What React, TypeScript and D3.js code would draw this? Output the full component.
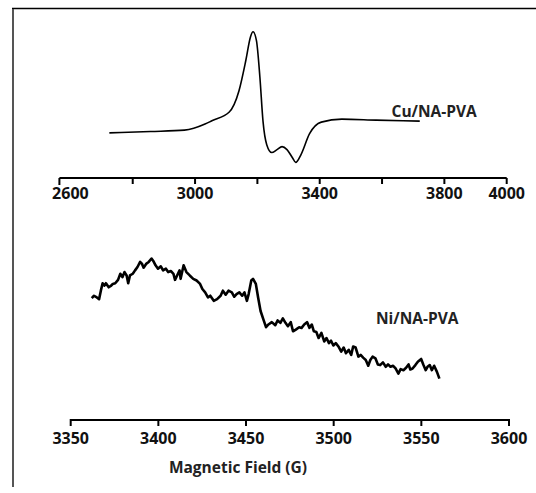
import React from "react";
import * as d3 from "d3";

// Top panel (Cu) axis
const cuTicks = [2600, 2800, 3000, 3200, 3400, 3600, 3800, 4000];
const cuTickLabels = [2600, 3000, 3400, 3800, 4000];
// Bottom panel (Ni) axis
const niTicks = [3350, 3400, 3450, 3500, 3550, 3600];
const seriesLabels = ["Cu/NA-PVA", "Ni/NA-PVA"];
const xAxisTitle = "Magnetic Field (G)";

// Cu/NA-PVA EPR signal: [field (G), intensity (a.u.)]
const cuSignal: [number, number][] = [
  [2725, 0], [2857, 1.4], [2966, 2.8], [3032, 9], [3054, 12.4], [3109, 21],
  [3141, 43], [3163, 74], [3178, 98], [3186, 103], [3197, 94], [3208, 57],
  [3218, 12], [3230, -12], [3246, -20], [3263, -17], [3279, -14], [3295, -17],
  [3312, -25], [3323, -30], [3340, -22], [3367, -1], [3405, 11], [3471, 14],
  [3581, 13], [3721, 12],
];

// Ni/NA-PVA EPR signal: [field (G), intensity (a.u.)]
const niSignal: [number, number][] = [
  [3362.0, 24.8], [3363.3, 25.5], [3364.9, 25.0], [3366.2, 24.5], [3367.2, 27.0],
  [3368.2, 29.2], [3369.2, 28.5], [3370.1, 29.2], [3371.7, 28.0], [3373.1, 28.5],
  [3374.0, 29.0], [3375.4, 29.2], [3377.0, 30.2], [3378.3, 32.0], [3379.5, 31.0],
  [3380.7, 32.5], [3381.9, 31.5], [3382.8, 29.2], [3383.8, 31.5], [3385.4, 32.0],
  [3386.7, 33.0], [3388.1, 34.0], [3389.6, 35.5], [3390.6, 35.0], [3391.6, 33.8],
  [3393.2, 35.0], [3394.5, 35.5], [3396.1, 36.5], [3397.1, 35.8], [3398.4, 34.5],
  [3399.8, 33.5], [3401.4, 34.2], [3402.7, 33.0], [3404.3, 33.5], [3405.6, 32.5],
  [3407.2, 32.8], [3408.6, 32.0], [3409.5, 30.2], [3410.7, 31.5], [3412.1, 33.0],
  [3412.7, 30.5], [3414.4, 34.5], [3416.0, 32.5], [3417.9, 31.5], [3419.9, 30.5],
  [3421.8, 30.0], [3423.8, 29.0], [3425.1, 27.5], [3426.7, 26.5], [3428.3, 25.0],
  [3429.6, 25.5], [3431.6, 24.0], [3433.5, 24.5], [3435.5, 25.5], [3436.8, 27.0],
  [3438.4, 25.8], [3440.0, 27.0], [3441.9, 26.5], [3443.3, 25.2], [3444.6, 26.0],
  [3446.2, 26.5], [3447.8, 25.5], [3449.1, 26.5], [3450.5, 24.0], [3451.5, 26.0],
  [3453.0, 30.0], [3454.0, 30.5], [3455.6, 29.0], [3456.9, 25.0], [3458.3, 21.0],
  [3459.9, 18.5], [3461.4, 16.2], [3462.8, 17.0], [3464.7, 17.7], [3466.7, 16.8],
  [3468.0, 18.2], [3469.6, 17.5], [3471.0, 18.8], [3472.5, 17.5], [3473.9, 16.5],
  [3475.5, 17.7], [3476.8, 15.0], [3478.4, 15.5], [3480.3, 16.2], [3481.7, 16.0],
  [3483.2, 17.0], [3484.8, 17.7], [3486.2, 16.0], [3487.5, 17.0], [3488.7, 15.0],
  [3490.1, 14.8], [3491.4, 13.0], [3493.0, 14.5], [3494.6, 12.0], [3495.9, 13.0],
  [3497.3, 11.5], [3498.5, 12.2], [3499.8, 10.8], [3501.2, 11.5], [3502.7, 10.5],
  [3504.3, 9.0], [3505.7, 10.2], [3507.0, 8.5], [3508.6, 9.5], [3510.0, 8.0],
  [3511.1, 10.5], [3512.5, 10.2], [3514.1, 7.5], [3515.4, 8.0], [3516.8, 7.2],
  [3518.3, 6.5], [3519.7, 4.8], [3520.9, 6.5], [3522.2, 7.5], [3523.8, 7.0],
  [3525.2, 5.2], [3526.5, 5.0], [3528.1, 5.8], [3529.7, 4.5], [3531.0, 5.2],
  [3532.4, 4.5], [3533.9, 4.8], [3535.3, 4.0], [3536.9, 2.5], [3538.2, 3.8],
  [3539.8, 3.5], [3541.3, 4.2], [3542.7, 5.2], [3543.7, 3.7], [3545.0, 4.0],
  [3546.6, 5.0], [3548.0, 6.0], [3549.9, 6.8], [3551.1, 5.2], [3552.5, 3.5],
  [3553.5, 4.5], [3554.8, 5.0], [3556.0, 3.5], [3557.3, 4.8], [3558.9, 3.0],
  [3560.3, 1.0],
];

const FONT = "'Open Sans', Lato, sans-serif";

export default function App() {
  const W = 536;
  const H = 493;

  const xCu = d3.scaleLinear().domain([2600, 4000]).range([70.4, 506.7]);
  const yCu = d3.scaleLinear().domain([-40, 110]).range([172.2, 24.9]);
  const xNi = d3.scaleLinear().domain([3350, 3600]).range([70.7, 509]);
  const yNi = d3.scaleLinear().domain([0, 40]).range([382, 246.7]);

  const cuLine = d3
    .line<[number, number]>()
    .x((d) => xCu(d[0]))
    .y((d) => yCu(d[1]))
    .curve(d3.curveMonotoneX);
  const niLine = d3
    .line<[number, number]>()
    .x((d) => xNi(d[0]))
    .y((d) => yNi(d[1]))
    .curve(d3.curveLinear);

  const cuAxisY = 178;
  const niAxisY = 420;
  const cuAxisStart = xCu(2600) - 11;

  return (
    <svg
      width={W}
      height={H}
      style={{ position: "absolute", left: 0, top: 0, background: "#fff" }}
      fontFamily={FONT}
    >
      <rect x={0} y={0} width={W} height={H} fill="#fff" />
      {/* frame */}
      <line x1={12} x2={W} y1={8.5} y2={8.5} stroke="#000" strokeWidth={1.5} />
      <line x1={13} x2={13} y1={9} y2={487} stroke="#555" strokeWidth={2} />

      {/* Cu panel */}
      <path d={cuLine(cuSignal) || ""} fill="none" stroke="#000" strokeWidth={1.6} />
      <text x={391.5} y={117} fontSize={15.5} fontWeight="bold" fill="#222">
        {seriesLabels[0]}
      </text>
      <line
        x1={cuAxisStart}
        x2={xCu(4000)}
        y1={cuAxisY}
        y2={cuAxisY}
        stroke="#000"
        strokeWidth={2}
      />
      <line x1={cuAxisStart} x2={cuAxisStart} y1={cuAxisY} y2={cuAxisY + 7} stroke="#000" strokeWidth={2} />
      {cuTicks.slice(1).map((t) => (
        <line key={t} x1={xCu(t)} x2={xCu(t)} y1={cuAxisY} y2={cuAxisY + 6} stroke="#000" strokeWidth={2} />
      ))}
      {cuTickLabels.map((t) => (
        <text
          key={t}
          x={xCu(t)}
          y={199}
          textAnchor="middle"
          fontSize={16}
          fontWeight="bold"
          fill="#111"
        >
          {t}
        </text>
      ))}

      {/* Ni panel */}
      <path d={niLine(niSignal) || ""} fill="none" stroke="#000" strokeWidth={2.6} strokeLinejoin="round" />
      <text x={376} y={324} fontSize={15.5} fontWeight="bold" fill="#222">
        {seriesLabels[1]}
      </text>
      <line x1={xNi(3350)} x2={xNi(3600)} y1={niAxisY} y2={niAxisY} stroke="#000" strokeWidth={2} />
      {niTicks.map((t) => (
        <g key={t}>
          <line x1={xNi(t)} x2={xNi(t)} y1={niAxisY - 1} y2={niAxisY + 6} stroke="#000" strokeWidth={2} />
          <text x={xNi(t)} y={444} textAnchor="middle" fontSize={16} fontWeight="bold" fill="#111">
            {t}
          </text>
        </g>
      ))}
      <text x={238} y={473} textAnchor="middle" fontSize={15.5} fontWeight="bold" fill="#222">
        {xAxisTitle}
      </text>
    </svg>
  );
}
